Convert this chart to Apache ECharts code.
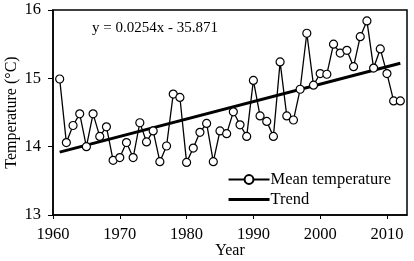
<!DOCTYPE html>
<html>
<head>
<meta charset="utf-8">
<script src="https://cdn.jsdelivr.net/npm/echarts@6/dist/echarts.min.js"></script>
<style>
  html, body { margin: 0; padding: 0; background: #fff; }
  #chart { width: 414px; height: 261px; }
</style>
</head>
<body>
<div id="chart"></div>
<script>
// 年份与年平均气温
var years = [1961,1962,1963,1964,1965,1966,1967,1968,1969,1970,
             1971,1972,1973,1974,1975,1976,1977,1978,1979,1980,
             1981,1982,1983,1984,1985,1986,1987,1988,1989,1990,
             1991,1992,1993,1994,1995,1996,1997,1998,1999,2000,
             2001,2002,2003,2004,2005,2006,2007,2008,2009,2010,
             2011,2012];
var meanTemp = [14.99,14.06,14.31,14.48,14.00,14.48,14.15,14.29,13.80,13.84,
                14.06,13.84,14.35,14.07,14.23,13.78,14.01,14.77,14.72,13.77,
                13.98,14.21,14.34,13.78,14.23,14.19,14.51,14.32,14.15,14.97,
                14.45,14.37,14.15,15.24,14.45,14.39,14.84,15.66,14.90,15.07,
                15.06,15.50,15.37,15.41,15.17,15.61,15.84,15.15,15.43,15.07,
                14.67,14.67];
// 趋势线端点
var trendYears = [1961, 2012];
var trendTemp = [13.92, 15.22];
var equationText = 'y = 0.0254x - 35.871';

var serif = 'Liberation Serif';

var option = {
    animation: false,
    textStyle: { fontFamily: serif },
    grid: {
        left: 53, right: 7, top: 10, bottom: 46,
        outerBoundsMode: 'none',
        containLabel: false,
        show: true,
        borderColor: '#000',
        borderWidth: 1.5
    },
    title: {
        text: equationText,
        left: 87, top: 16,
        textStyle: { fontFamily: serif, fontSize: 15, fontWeight: 'normal', color: '#000' }
    },
    legend: {
        right: 18, bottom: 48,
        orient: 'vertical',
        align: 'left',
        itemGap: 3,
        itemWidth: 41, itemHeight: 11,
        textStyle: { fontFamily: serif, fontSize: 16.5, color: '#000', padding: [0, 0, 0, -4] },
        data: [
            { name: 'Mean temperature' },
            { name: 'Trend', icon: 'path://M0,0L40,0L40,3L0,3Z' }
        ]
    },
    xAxis: {
        type: 'value',
        min: 1960, max: 2013, interval: 10,
        name: 'Year',
        nameLocation: 'middle',
        nameMoveOverlap: false,
        nameGap: 28,
        nameTextStyle: { fontFamily: serif, fontSize: 16, color: '#000' },
        axisLine: { lineStyle: { color: '#000', width: 1.5 } },
        axisTick: { show: true, inside: false, length: 4, lineStyle: { color: '#000' } },
        axisLabel: {
            fontFamily: serif, fontSize: 16.5, color: '#000', margin: 11,
            showMaxLabel: false,
            formatter: function (v) { return v % 10 === 0 ? String(v) : ''; }
        },
        splitLine: { show: false }
    },
    yAxis: {
        type: 'value',
        min: 13, max: 16, interval: 1,
        name: 'Temperature (°C)',
        nameLocation: 'middle',
        nameMoveOverlap: false,
        nameGap: 33,
        nameTextStyle: { fontFamily: serif, fontSize: 16, color: '#000' },
        axisLine: { show: true, lineStyle: { color: '#000', width: 1.5 } },
        axisTick: { show: true, inside: false, length: 5, lineStyle: { color: '#000' } },
        axisLabel: { fontFamily: serif, fontSize: 16.5, color: '#000', margin: 12 },
        splitLine: { show: false }
    },
    series: [
        {
            name: 'Mean temperature',
            type: 'line',
            data: years.map(function (y, i) { return [y, meanTemp[i]]; }),
            symbol: 'circle',
            symbolSize: 8,
            showAllSymbol: true,
            lineStyle: { color: '#000', width: 1.3 },
            itemStyle: { color: '#fff', borderColor: '#000', borderWidth: 1.2 },
            z: 3
        },
        {
            name: 'Trend',
            type: 'line',
            data: trendYears.map(function (y, i) { return [y, trendTemp[i]]; }),
            symbol: 'none',
            lineStyle: { color: '#000', width: 3 },
            itemStyle: { color: '#000' },
            z: 2
        }
    ]
};

var myChart = echarts.init(document.getElementById('chart'));
myChart.setOption(option);
window.addEventListener('resize', function () {
    myChart.resize();
});
</script>
</body>
</html>
